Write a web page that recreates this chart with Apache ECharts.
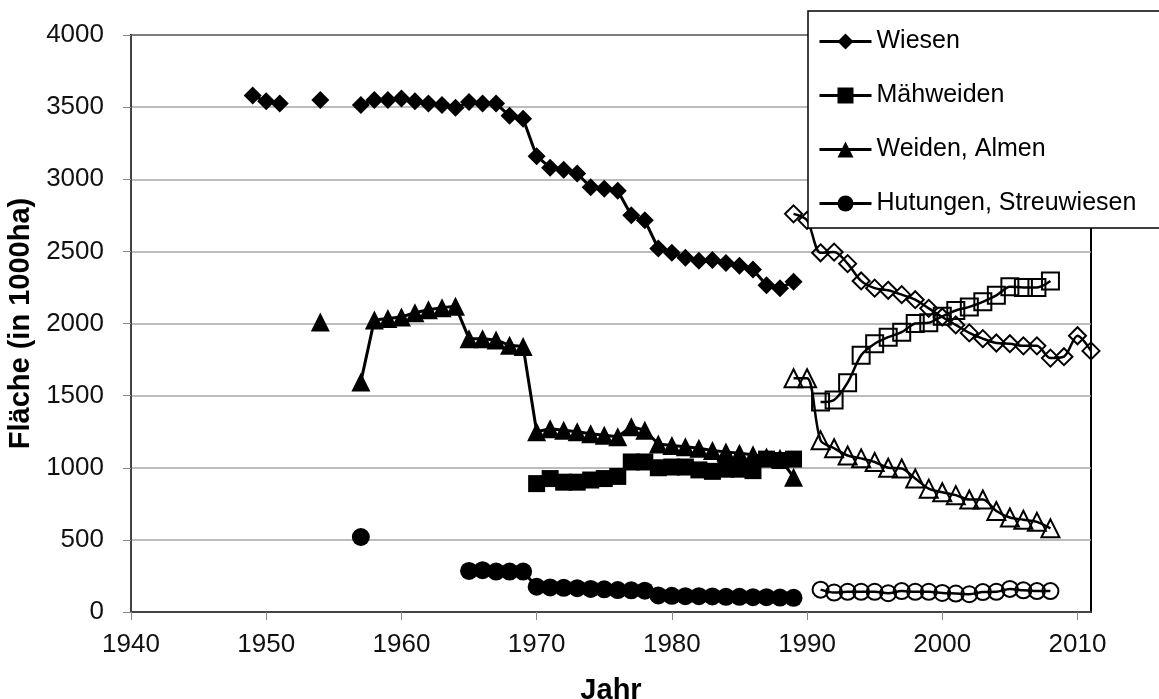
<!DOCTYPE html>
<html>
<head>
<meta charset="utf-8">
<script src="https://cdn.jsdelivr.net/npm/echarts@6/dist/echarts.min.js"></script>
<style>
  html, body { margin: 0; padding: 0; background: #fff; }
  #chart { width: 1159px; height: 699px; }
</style>
</head>
<body>
<div id="chart"></div>
<script>
// Jahre bis 1989 (früheres Bundesgebiet) und ab 1989 (Deutschland)
const yearsEarly = [];
for (let y = 1949; y <= 1989; y++) yearsEarly.push(y);
const yearsLate = [];
for (let y = 1989; y <= 2011; y++) yearsLate.push(y);

// 1949 ... 1989
const wiesenEarly = [3580, 3540, 3525, null, null, 3550, null, null, 3515, 3550,
  3550, 3560, 3540, 3525, 3515, 3495, 3535, 3525, 3525, 3440,
  3420, 3160, 3080, 3065, 3040, 2945, 2935, 2920, 2750, 2715,
  2520, 2490, 2455, 2435, 2440, 2420, 2400, 2375, 2265, 2245, 2290];
const maehEarly = [null, null, null, null, null, null, null, null, null, null,
  null, null, null, null, null, null, null, null, null, null,
  null, 890, 925, 900, 900, 915, 925, 940, 1040, 1040,
  1000, 1005, 1005, 985, 975, 990, 990, 980, 1060, 1050, 1060];
const weidenEarly = [null, null, null, null, null, 2010, null, null, 1595, 2025,
  2035, 2045, 2075, 2095, 2110, 2120, 1895, 1895, 1885, 1850,
  1840, 1250, 1270, 1260, 1250, 1235, 1225, 1215, 1285, 1260,
  1165, 1155, 1145, 1135, 1120, 1110, 1100, 1090, 1075, 1065, 935];
const hutEarly = [null, null, null, null, null, null, null, null, 520, null,
  null, null, null, null, null, null, 285, 290, 280, 280,
  280, 175, 170, 168, 165, 160, 157, 152, 150, 148,
  115, 112, 110, 110, 108, 105, 105, 103, 103, 100, 98];

// 1989 ... 2011
const wiesenLate = [2760, 2715, 2490, 2495, 2415, 2295, 2245, 2230, 2200, 2165,
  2105, 2045, 1990, 1935, 1895, 1865, 1860, 1845, 1845, 1760, 1770, 1915, 1810];
const maehLate = [null, null, 1455, 1470, 1590, 1780, 1860, 1905, 1940, 2000,
  2005, 2050, 2090, 2115, 2150, 2195, 2255, 2250, 2250, 2295, null, null, null];
const weidenLate = [1620, 1620, 1190, 1135, 1085, 1065, 1040, 1000, 995, 925,
  855, 830, 810, 780, 780, 700, 655, 640, 625, 580, null, null, null];
const hutLate = [null, null, 155, 135, 140, 140, 140, 130, 145, 140,
  140, 132, 128, 123, 138, 140, 160, 150, 145, 145, null, null, null];

const names = ['Wiesen', 'Mähweiden', 'Weiden, Almen', 'Hutungen, Streuwiesen'];
const symbols = ['diamond', 'rect', 'triangle', 'circle'];

const pairs = (years, vals) => years.map((y, i) => [y, vals[i]]);

const early = [wiesenEarly, maehEarly, weidenEarly, hutEarly];
const late = [wiesenLate, maehLate, weidenLate, hutLate];
const fullSize = [18, 17, 19, 18];
const openSize = [17, 17, 18, 16];

let series = [];
early.forEach((vals, i) => {
  series.push({
    name: names[i],
    type: 'line',
    data: pairs(yearsEarly, vals),
    symbol: symbols[i],
    symbolSize: fullSize[i],
    showAllSymbol: true,
    connectNulls: false,
    lineStyle: { color: '#000', width: 3 },
    itemStyle: { color: '#000' },
    emphasis: { disabled: true }
  });
});
late.forEach((vals, i) => {
  series.push({
    name: names[i] + ' (ab 1989)',
    type: 'line',
    data: pairs(yearsLate, vals),
    symbol: symbols[i],
    symbolSize: openSize[i],
    showAllSymbol: true,
    smooth: 0.3,
    lineStyle: { color: '#000', width: 2.5 },
    itemStyle: { color: 'rgba(0,0,0,0)', borderColor: '#000', borderWidth: 2 },
    emphasis: { disabled: true }
  });
});

const font = 'Liberation Sans, Arial, sans-serif';
let myChart = echarts.init(document.getElementById('chart'));
let option = {
  animation: false,
  backgroundColor: '#fff',
  grid: {
    left: 131, right: 68, top: 35, bottom: 87,
    outerBoundsMode: 'none',
    containLabel: false,
    show: true, borderColor: '#000', borderWidth: 2
  },
  legend: {
    data: names,
    orient: 'vertical',
    left: 808,
    top: 11,
    padding: [18, 60, 12, 10],
    itemWidth: 52,
    itemHeight: 20,
    itemGap: 29,
    backgroundColor: '#fff',
    borderColor: '#000',
    borderWidth: 1.5,
    lineStyle: { width: 3 },
    textStyle: { fontFamily: font, fontSize: 25, color: '#000' }
  },
  xAxis: {
    type: 'value',
    min: 1940,
    max: 2011,
    interval: 10,
    name: 'Jahr',
    nameLocation: 'middle',
    nameGap: 64,
    nameTextStyle: { fontFamily: font, fontSize: 29, fontWeight: 'bold', color: '#000' },
    axisLine: { lineStyle: { color: '#444', width: 2 } },
    axisTick: { show: true, length: 8, lineStyle: { color: '#888' } },
    axisLabel: {
      fontFamily: font, fontSize: 26, color: '#111', margin: 20,
      showMaxLabel: false,
      formatter: v => (v % 10 === 0 ? String(v) : '')
    },
    splitLine: { show: false }
  },
  yAxis: {
    type: 'value',
    min: 0,
    max: 4000,
    interval: 500,
    name: 'Fläche (in 1000ha)',
    nameLocation: 'middle',
    nameGap: 77,
    nameTextStyle: { fontFamily: font, fontSize: 29, fontWeight: 'bold', color: '#000' },
    axisLine: { show: true, lineStyle: { color: '#444', width: 2 } },
    axisTick: { show: true, length: 8, lineStyle: { color: '#888' } },
    axisLabel: { fontFamily: font, fontSize: 26, color: '#111', margin: 27, formatter: v => String(v) },
    splitLine: { show: true, lineStyle: { color: '#a6a6a6', width: 1.5 } }
  },
  series: series
};
myChart.setOption(option);
</script>
</body>
</html>
